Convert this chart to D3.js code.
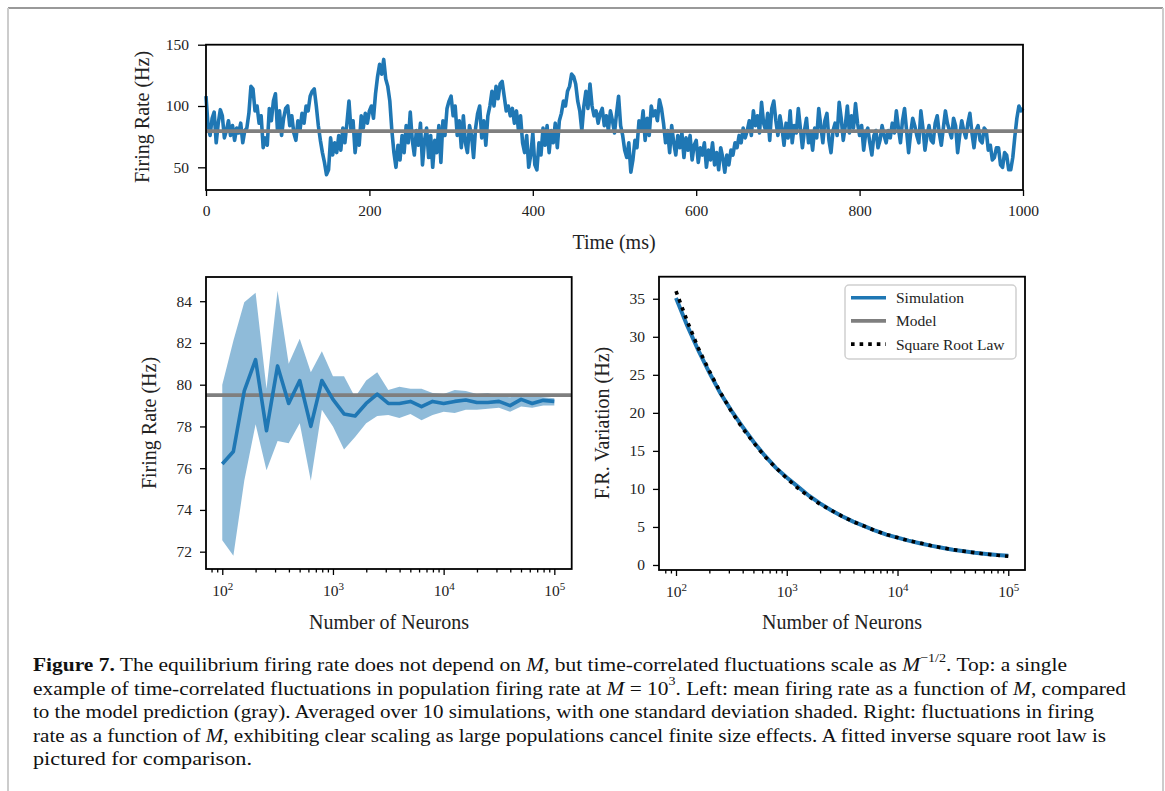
<!DOCTYPE html>
<html>
<head>
<meta charset="utf-8">
<script src="https://cdn.jsdelivr.net/npm/d3@7"></script>
<style>
  body { margin: 0; background: #fff; }
  svg { display: block; font-family: "Liberation Serif", "DejaVu Serif", serif; }
</style>
</head>
<body>
<div id="chart"></div>
<script>
// ---- data ----

// top panel: population firing rate, sampled every 2.5 ms (one row = 50 ms)
const timeMs = d3.range(0, 1000.1, 2.5);
const firingRate = [
  108, 84, 76, 90, 95, 70, 86, 97, 92, 74, 80, 88, 76, 84, 72, 82, 78, 86, 70, 80,
  82, 94, 116, 114, 96, 100, 86, 92, 66, 74, 68, 98, 88, 104, 110, 80, 96, 76, 90, 98,
  100, 84, 92, 78, 72, 88, 80, 94, 86, 100, 96, 108, 112, 114, 100, 84, 72, 62, 54, 44,
  48, 74, 60, 70, 62, 76, 64, 82, 70, 86, 104, 80, 88, 62, 78, 68, 92, 82, 94, 86,
  96, 100, 90, 110, 124, 134, 126, 138, 122, 116, 104, 80, 62, 50, 68, 56, 76, 62, 84, 70,
  95, 72, 60, 80, 68, 86, 52, 72, 82, 58, 76, 50, 72, 62, 84, 54, 88, 76, 98, 104,
  108, 92, 100, 76, 88, 66, 92, 70, 62, 84, 76, 58, 82, 94, 100, 74, 88, 68, 92, 100,
  112, 100, 116, 106, 118, 120, 108, 96, 100, 92, 98, 86, 96, 80, 92, 70, 62, 76, 50, 60,
  78, 52, 48, 70, 60, 82, 68, 84, 62, 80, 70, 86, 66, 88, 94, 104, 100, 112, 116, 126,
  124, 118, 104, 96, 80, 100, 112, 98, 118, 100, 92, 96, 86, 94, 98, 84, 92, 80, 96, 88,
  78, 94, 108, 84, 76, 64, 58, 70, 46, 56, 72, 66, 88, 80, 96, 72, 90, 76, 100, 92,
  96, 88, 105, 98, 86, 70, 80, 62, 84, 70, 60, 76, 66, 78, 58, 74, 64, 76, 56, 68,
  72, 54, 66, 60, 70, 50, 64, 56, 70, 52, 62, 48, 66, 58, 46, 60, 52, 64, 60, 70,
  66, 76, 70, 82, 74, 80, 88, 76, 96, 84, 92, 78, 103, 86, 80, 94, 72, 98, 104, 88,
  76, 92, 82, 68, 86, 74, 96, 70, 84, 78, 98, 82, 66, 80, 90, 70, 78, 64, 82, 74,
  98, 84, 70, 88, 94, 72, 62, 80, 86, 76, 103, 90, 72, 84, 100, 78, 92, 82, 102, 86,
  76, 84, 64, 78, 82, 70, 60, 76, 80, 66, 72, 84, 76, 70, 80, 74, 86, 78, 96, 82,
  70, 88, 98, 80, 62, 78, 90, 84, 76, 70, 96, 82, 64, 76, 84, 72, 70, 86, 92, 78,
  68, 82, 96, 86, 80, 74, 90, 84, 62, 76, 88, 80, 74, 86, 94, 78, 66, 80, 84, 72,
  70, 82, 80, 64, 68, 56, 58, 66, 66, 52, 50, 62, 60, 48, 48, 58, 75, 90, 100, 96,
  98
];
const modelRate = 79.5;

// bottom panels: population sizes (log spaced)
const neurons = [
  100, 126, 158, 200, 251, 316, 398, 501, 631, 794,
  1000, 1259, 1585, 1995, 2512, 3162, 3981, 5012, 6310, 7943,
  10000, 12589, 15849, 19953, 25119, 31623, 39811, 50119, 63096, 79433,
  100000
];
const meanRate = [
  76.2, 76.8, 79.7, 81.2, 77.8, 80.9, 79.1, 80.2, 78.0, 80.2,
  79.3, 78.6, 78.5, 79.1, 79.55, 79.1, 79.1, 79.2, 78.95, 79.2,
  79.1, 79.2, 79.27, 79.15, 79.15, 79.2, 79.0, 79.3, 79.1, 79.25,
  79.2
];
const rateUpper = [
  80.0, 82.1, 83.95, 84.4, 79.8, 84.5, 81.0, 82.2, 80.6, 81.6,
  80.4, 80.4, 79.4, 80.2, 80.6, 79.75, 79.9, 79.8, 79.8, 79.6,
  79.55, 79.75, 79.7, 79.55, 79.6, 79.45, 79.4, 79.5, 79.45, 79.4,
  79.35
];
const rateLower = [
  72.55, 71.8, 75.4, 78.1, 75.9, 77.3, 77.2, 78.15, 75.4, 78.8,
  78.0, 76.9, 77.5, 78.15, 78.5, 78.55, 78.4, 78.6, 78.3, 78.55,
  78.7, 78.65, 78.8, 78.8, 78.85, 78.9, 78.7, 78.95, 78.9, 79.0,
  79.0
];
const variationSim = [
  35.1, 31.5, 28.3, 25.3, 22.6, 20.3, 18.2, 16.2, 14.4, 12.8,
  11.5, 10.3, 9.1, 8.1, 7.2, 6.4, 5.7, 5.1, 4.5, 4.0,
  3.6, 3.2, 2.85, 2.55, 2.27, 2.0, 1.8, 1.6, 1.45, 1.3,
  1.2
];
const variationSqrt = [
  36.0, 32.1, 28.6, 25.5, 22.7, 20.2, 18.0, 16.1, 14.3, 12.8,
  11.4, 10.1, 9.0, 8.0, 7.2, 6.4, 5.7, 5.1, 4.5, 4.0,
  3.6, 3.2, 2.9, 2.55, 2.27, 2.02, 1.8, 1.61, 1.43, 1.28,
  1.14
];

const topXTicks = [0, 200, 400, 600, 800, 1000];
const topYTicks = [50, 100, 150];
const leftYTicks = [72, 74, 76, 78, 80, 82, 84];
const rightYTicks = [0, 5, 10, 15, 20, 25, 30, 35];
const logMajors = [1e2, 1e3, 1e4, 1e5];
const legendItems = ["Simulation", "Model", "Square Root Law"];

// ---- drawing ----
const W = 1165, H = 791;
const blue = "#1f77b4", gray = "#7f7f7f";
const tickFont = 15.5, labelFont = 20;

const svg = d3.select("#chart").append("svg")
  .attr("width", W).attr("height", H);

svg.append("rect").attr("width", W).attr("height", H).attr("fill", "#fff");

// page frame
svg.append("line").attr("x1", 8).attr("x2", 1163).attr("y1", 8).attr("y2", 8)
  .attr("stroke", "#999").attr("stroke-width", 2);
svg.append("line").attr("x1", 8).attr("x2", 8).attr("y1", 8).attr("y2", H)
  .attr("stroke", "#ccc").attr("stroke-width", 2);
svg.append("line").attr("x1", 1163).attr("x2", 1163).attr("y1", 8).attr("y2", H)
  .attr("stroke", "#ccc").attr("stroke-width", 2);

function styleAxis(g) {
  g.select(".domain").remove();
  g.selectAll(".tick line").attr("stroke", "#000").attr("stroke-width", 1.3);
  g.selectAll(".tick text").attr("font-size", tickFont).attr("fill", "#222")
    .attr("font-family", "Liberation Serif");
}

function frame(x, y) {
  const [x0, x1] = x.range(), [y0, y1] = y.range();
  svg.append("rect")
    .attr("x", x0).attr("y", y1).attr("width", x1 - x0).attr("height", y0 - y1)
    .attr("fill", "none").attr("stroke", "#000").attr("stroke-width", 1.8);
}

function logXAxis(x, yBottom) {
  const minors = [];
  for (let e = 1; e <= 5; e++) {
    for (let m = 2; m <= 9; m++) {
      const v = m * Math.pow(10, e);
      if (v >= x.domain()[0] && v <= x.domain()[1]) minors.push(v);
    }
  }
  svg.append("g").attr("transform", `translate(0,${yBottom})`)
    .call(d3.axisBottom(x).tickValues(minors).tickSize(3.5).tickFormat(""))
    .call(styleAxis);
  const g = svg.append("g").attr("transform", `translate(0,${yBottom})`)
    .call(d3.axisBottom(x).tickValues(logMajors).tickSize(6).tickPadding(6).tickFormat(""))
    .call(styleAxis);
  g.selectAll(".tick text").each(function (d) {
    const t = d3.select(this).attr("dy", "0.95em");
    t.append("tspan").text("10");
    t.append("tspan").attr("font-size", 11).attr("dy", "-0.55em")
      .text(Math.round(Math.log10(d)));
  });
}

function yLabel(text, cx, cy) {
  svg.append("text")
    .attr("transform", `translate(${cx},${cy}) rotate(-90)`)
    .attr("text-anchor", "middle").attr("dominant-baseline", "central")
    .attr("font-size", labelFont).attr("fill", "#222").text(text);
}

function xLabel(text, cx, cy) {
  svg.append("text").attr("x", cx).attr("y", cy)
    .attr("text-anchor", "middle").attr("dominant-baseline", "central")
    .attr("font-size", labelFont).attr("fill", "#222").text(text);
}

// --- top panel ---
{
  const x = d3.scaleLinear().domain([0, 1000]).range([206, 1023]);
  const y = d3.scaleLinear().domain([31.5, 150]).range([190, 44.7]);

  svg.append("path")
    .datum(timeMs.map((t, i) => [t, firingRate[i]]))
    .attr("fill", "none").attr("stroke", blue).attr("stroke-width", 3.6)
    .attr("stroke-linejoin", "round")
    .attr("d", d3.line().x(d => x(d[0])).y(d => y(d[1])));

  svg.append("line")
    .attr("x1", x(0)).attr("x2", x(1000))
    .attr("y1", y(modelRate)).attr("y2", y(modelRate))
    .attr("stroke", gray).attr("stroke-width", 3.6);

  frame(x, y);
  svg.append("g").attr("transform", "translate(0,190)")
    .call(d3.axisBottom(x).tickValues(topXTicks).tickSize(6).tickPadding(9).tickFormat(d3.format("d")))
    .call(styleAxis);
  svg.append("g").attr("transform", "translate(206,0)")
    .call(d3.axisLeft(y).tickValues(topYTicks).tickSize(8).tickPadding(9))
    .call(styleAxis);

  yLabel("Firing Rate (Hz)", 142, 117);
  xLabel("Time (ms)", 614, 242);
}

// --- bottom left panel ---
{
  const x = d3.scaleLog().domain([Math.pow(10, 1.853), Math.pow(10, 5.157)]).range([206, 571.7]);
  const y = d3.scaleLinear().domain([71.17, 85.16]).range([569, 277]);

  svg.append("path")
    .datum(neurons.map((n, i) => [n, rateLower[i], rateUpper[i]]))
    .attr("fill", blue).attr("fill-opacity", 0.5)
    .attr("d", d3.area().x(d => x(d[0])).y0(d => y(d[1])).y1(d => y(d[2])));

  svg.append("line")
    .attr("x1", 206).attr("x2", 571.7)
    .attr("y1", y(modelRate)).attr("y2", y(modelRate))
    .attr("stroke", gray).attr("stroke-width", 3.6);

  svg.append("path")
    .datum(neurons.map((n, i) => [n, meanRate[i]]))
    .attr("fill", "none").attr("stroke", blue).attr("stroke-width", 3.6)
    .attr("stroke-linejoin", "round")
    .attr("d", d3.line().x(d => x(d[0])).y(d => y(d[1])));

  frame(x, y);
  logXAxis(x, 569);
  svg.append("g").attr("transform", "translate(206,0)")
    .call(d3.axisLeft(y).tickValues(leftYTicks).tickSize(6).tickPadding(8))
    .call(styleAxis);

  yLabel("Firing Rate (Hz)", 149, 423);
  xLabel("Number of Neurons", 389, 622);
}

// --- bottom right panel ---
{
  const x = d3.scaleLog().domain([Math.pow(10, 1.8465), Math.pow(10, 5.151)]).range([659, 1025]);
  const y = d3.scaleLinear().domain([-0.66, 37.9]).range([570, 276.7]);

  svg.append("path")
    .datum(neurons.map((n, i) => [n, variationSim[i]]))
    .attr("fill", "none").attr("stroke", blue).attr("stroke-width", 4)
    .attr("d", d3.line().x(d => x(d[0])).y(d => y(d[1])));

  svg.append("path")
    .datum(neurons.map((n, i) => [n, variationSqrt[i]]))
    .attr("fill", "none").attr("stroke", "#000").attr("stroke-width", 3.6)
    .attr("stroke-dasharray", "3.6,5")
    .attr("d", d3.line().x(d => x(d[0])).y(d => y(d[1])));

  frame(x, y);
  logXAxis(x, 570);
  svg.append("g").attr("transform", "translate(659,0)")
    .call(d3.axisLeft(y).tickValues(rightYTicks).tickSize(6).tickPadding(8))
    .call(styleAxis);

  yLabel("F.R. Variation (Hz)", 602, 423);
  xLabel("Number of Neurons", 842, 622);

  // legend
  const lg = svg.append("g");
  lg.append("rect").attr("x", 845).attr("y", 285).attr("width", 171).attr("height", 74)
    .attr("rx", 4).attr("fill", "#fff").attr("fill-opacity", 0.8)
    .attr("stroke", "#d0d0d0").attr("stroke-width", 1.5);
  const styles = [
    { stroke: blue, dash: null },
    { stroke: gray, dash: null },
    { stroke: "#000", dash: "3.6,5" }
  ];
  legendItems.forEach((name, i) => {
    const cy = 297.7 + i * 23.2;
    lg.append("line").attr("x1", 851).attr("x2", 886).attr("y1", cy).attr("y2", cy)
      .attr("stroke", styles[i].stroke).attr("stroke-width", 3.6)
      .attr("stroke-dasharray", styles[i].dash);
    lg.append("text").attr("x", 896).attr("y", cy).attr("dominant-baseline", "central")
      .attr("font-size", 15.5).attr("fill", "#222").text(name);
  });
}

// --- caption ---
const captionLines = [
  { y: 664, len: 1034, parts: [
    { t: "Figure 7.", b: true }, { t: " The equilibrium firing rate does not depend on " }, { t: "M", i: true },
    { t: ", but time-correlated fluctuations scale as " }, { t: "M", i: true }, { t: "−1/2", sup: true },
    { t: ". Top: a single" }] },
  { y: 687.5, len: 1093, parts: [
    { t: "example of time-correlated fluctuations in population firing rate at " }, { t: "M", i: true },
    { t: " = 10" }, { t: "3", sup: true }, { t: ". Left: mean firing rate as a function of " }, { t: "M", i: true },
    { t: ", compared" }] },
  { y: 711, len: 1061, parts: [
    { t: "to the model prediction (gray). Averaged over 10 simulations, with one standard deviation shaded. Right: fluctuations in firing" }] },
  { y: 734.5, len: 1073, parts: [
    { t: "rate as a function of " }, { t: "M", i: true },
    { t: ", exhibiting clear scaling as large populations cancel finite size effects. A fitted inverse square root law is" }] },
  { y: 758, len: 219, parts: [{ t: "pictured for comparison." }] }
];

captionLines.forEach(line => {
  const txt = svg.append("text").attr("x", 33).attr("y", line.y)
    .attr("dominant-baseline", "central")
    .attr("font-size", 19).attr("fill", "#111")
    .attr("textLength", line.len).attr("lengthAdjust", "spacingAndGlyphs");
  let raised = false;
  line.parts.forEach(p => {
    const s = txt.append("tspan").text(p.t);
    if (p.b) s.attr("font-weight", "bold");
    if (p.i) s.attr("font-style", "italic");
    if (p.sup) { s.attr("font-size", 12.5).attr("dy", "-0.5em"); raised = true; }
    else if (raised) { s.attr("dy", "0.33em"); raised = false; }
  });
});
</script>
</body>
</html>
